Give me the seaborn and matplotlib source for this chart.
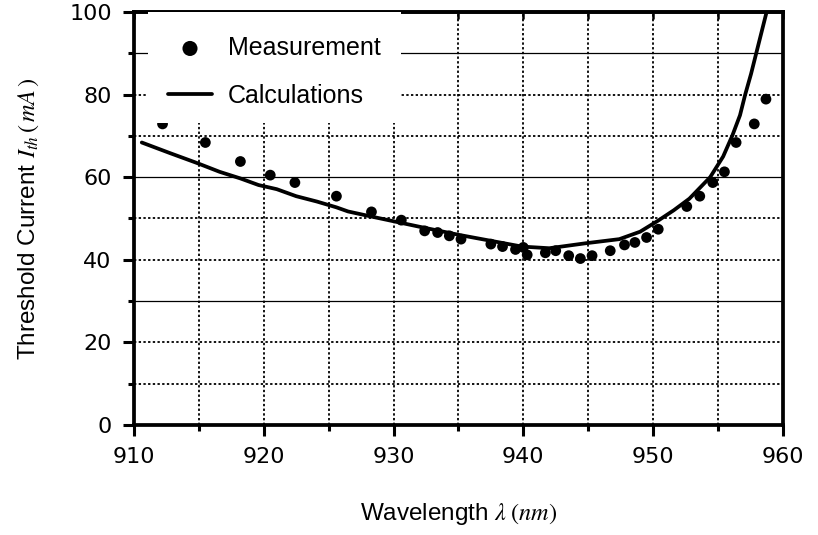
import numpy as np
import pandas as pd
import matplotlib as mpl
mpl.use('Agg')
import matplotlib.pyplot as plt
import seaborn as sns
from matplotlib.ticker import MultipleLocator, NullFormatter
from matplotlib.patches import Rectangle

# measured threshold current (mA) vs wavelength (nm)
meas_wl = [912.2, 915.5, 918.2, 920.5, 922.4, 925.6, 928.3, 930.6, 932.4,
           933.4, 934.3, 935.2, 937.5, 938.4, 939.4, 940.0, 940.3, 941.7,
           942.5, 943.5, 944.4, 945.3, 946.7, 947.8, 948.6, 949.5, 950.4,
           952.6, 953.6, 954.6, 955.5, 956.4, 957.8, 958.7]
meas_ith = [72.9, 68.4, 63.8, 60.5, 58.7, 55.4, 51.6, 49.6, 47.0,
            46.6, 45.8, 45.0, 43.8, 43.2, 42.5, 43.0, 41.2, 41.7,
            42.2, 41.0, 40.3, 41.0, 42.2, 43.6, 44.2, 45.4, 47.4,
            52.9, 55.4, 58.7, 61.3, 68.4, 72.9, 78.9]

# calculated curve
calc_wl = [910.6, 912.8, 914.8, 916.6, 918.2, 919.6, 921.0, 922.5, 924.1,
           925.6, 926.5, 928.4, 930.2, 932.0, 935.1, 937.5, 939.9, 942.0,
           944.8, 947.4, 949.0, 950.4, 951.6, 952.8, 954.4, 955.4, 956.1,
           956.7, 957.1, 957.55, 957.95, 958.35, 958.75]
calc_ith = [68.4, 65.8, 63.5, 61.3, 59.7, 58.1, 57.1, 55.4, 54.1,
            52.7, 51.7, 50.4, 49.2, 48.0, 46.0, 44.6, 43.2, 42.8,
            44.0, 45.0, 46.8, 49.5, 52.0, 54.8, 60.0, 65.0, 70.0,
            75.0, 80.0, 85.0, 90.0, 95.0, 100.0]

x_ticks = [910, 920, 930, 940, 950, 960]
y_ticks = [0, 20, 40, 60, 80, 100]

df_meas = pd.DataFrame({'wl': meas_wl, 'ith': meas_ith})
df_calc = pd.DataFrame({'wl': calc_wl, 'ith': calc_ith})

sns.set_style('ticks')
plt.rcParams['font.family'] = ['Liberation Sans', 'DejaVu Sans']
plt.rcParams['mathtext.fontset'] = 'stix'
for k in ['text.color', 'axes.labelcolor', 'xtick.color', 'ytick.color']:
    plt.rcParams[k] = 'black'

fig = plt.figure(figsize=(8.18, 5.35), dpi=100)
ax = fig.add_axes([0.1638, 0.2056, 0.7932, 0.772])

sns.lineplot(data=df_calc, x='wl', y='ith', ax=ax, color='black',
             linewidth=2.7, label='Calculations', zorder=3, sort=False)
sns.scatterplot(data=df_meas, x='wl', y='ith', ax=ax, color='black',
                s=60, edgecolor='none', label='Measurement', zorder=4)

ax.set_xlim(910, 960)
ax.set_ylim(0, 100)
ax.set_xticks(x_ticks)
ax.set_yticks(y_ticks)
ax.xaxis.set_minor_locator(MultipleLocator(5))
ax.yaxis.set_minor_locator(MultipleLocator(10))

# grid: dotted, with a few solid horizontal lines as in the original
dots = (0, (1.3, 1.3))
for gx in np.arange(915, 960, 5):
    ax.axvline(gx, color='black', linestyle=dots, linewidth=1.3, zorder=1)
for gy in np.arange(10, 100, 10):
    solid = round(gy) in (30, 60, 90)
    ax.axhline(gy, color='black', linestyle='-' if solid else dots,
               linewidth=0.9 if solid else 1.3, zorder=1)

for sp in ax.spines.values():
    sp.set_linewidth(2.7)
    sp.set_color('black')

ax.tick_params(which='major', direction='out', length=8, width=2.2,
               labelsize=16)
ax.tick_params(axis='x', which='major', pad=8)
ax.tick_params(axis='y', which='major', pad=8)
ax.tick_params(which='minor', direction='out', length=4, width=2.2)
for lab in ax.get_xticklabels() + ax.get_yticklabels():
    lab.set_family('DejaVu Sans')

# small inward ticks along the top edge
top = ax.secondary_xaxis('top')
top.set_xticks(x_ticks)
top.xaxis.set_minor_locator(MultipleLocator(5))
top.xaxis.set_major_formatter(NullFormatter())
top.tick_params(which='both', direction='in', length=5, width=1.8)
top.spines['top'].set_linewidth(2.7)

ax.set_xlabel(r'Wavelength $\lambda\;(nm)$', fontsize=17.5, labelpad=24)
ax.set_ylabel(r'Threshold Current $I_{th}\,(\,mA\,)$', fontsize=17.5, labelpad=20)

# white box behind legend hides grid and the clipped first point
ax.add_patch(Rectangle((0.022, 0.73), 0.39, 0.27, transform=ax.transAxes,
                       facecolor='white', edgecolor='none', zorder=5))

handles, labels = ax.get_legend_handles_labels()
order = [labels.index('Measurement'), labels.index('Calculations')]
leg = ax.legend([handles[i] for i in order], [labels[i] for i in order],
                loc='upper left', bbox_to_anchor=(0.037, 0.966), frameon=False,
                fontsize=18, markerscale=1.4, handlelength=1.76,
                handletextpad=0.64, labelspacing=0.95, borderaxespad=0)
leg.set_zorder(6)

fig.savefig('out.png', dpi=100)
